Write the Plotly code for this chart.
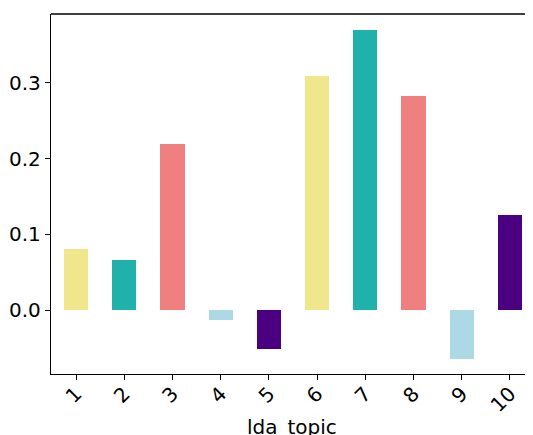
import plotly.graph_objects as go

topics = [1, 2, 3, 4, 5, 6, 7, 8, 9, 10]
tick_labels = ["1", "2", "3", "4", "5", "6", "7", "8", "9", "10"]
values = [0.0806, 0.066, 0.219, -0.013, -0.0515, 0.309, 0.370, 0.283, -0.065, 0.1255]
colors = ["#F0E68C", "#20B2AA", "#F08080", "#ADD8E6", "#4B0082",
          "#F0E68C", "#20B2AA", "#F08080", "#ADD8E6", "#4B0082"]
y_ticks = [0.0, 0.1, 0.2, 0.3]
y_tick_labels = ["0.0", "0.1", "0.2", "0.3"]
x_title = "lda_topic"

font = "DejaVu Sans"

fig = go.Figure()
fig.add_trace(go.Bar(x=topics, y=values, width=0.5, marker=dict(color=colors, line=dict(width=0))))

fig.update_layout(
    width=525, height=427,
    margin=dict(l=43, r=0, t=6, b=61),
    paper_bgcolor="white", plot_bgcolor="white",
    showlegend=False,
    font=dict(family=font, size=20, color="black"),
    bargap=0,
)
fig.update_xaxes(
    range=[0.48, 10.48], tickvals=topics, ticktext=tick_labels,
    tickangle=-45, ticks="outside", ticklen=5, tickcolor="black", tickwidth=1,
    ticklabelstandoff=-6,
    showline=True, linecolor="black", linewidth=1.3, showgrid=False, zeroline=False,
    tickfont=dict(family=font, size=20, color="black"),
)
fig.update_yaxes(
    range=[-0.0845, 0.391], tickvals=y_ticks, ticktext=y_tick_labels,
    ticks="outside", ticklen=5, tickcolor="black", tickwidth=1,
    showline=True, linecolor="black", linewidth=1.3, showgrid=False, zeroline=False,
    tickfont=dict(family=font, size=20, color="black"),
)
fig.add_shape(type="line", xref="paper", yref="paper", x0=0, x1=1, y0=1, y1=1,
              line=dict(color="black", width=1.3))
fig.add_annotation(text=x_title, xref="paper", yref="paper", x=0.5, y=-0.108,
                   xanchor="center", yanchor="top", showarrow=False,
                   font=dict(family=font, size=20, color="black"))

fig.write_html("out.html")
